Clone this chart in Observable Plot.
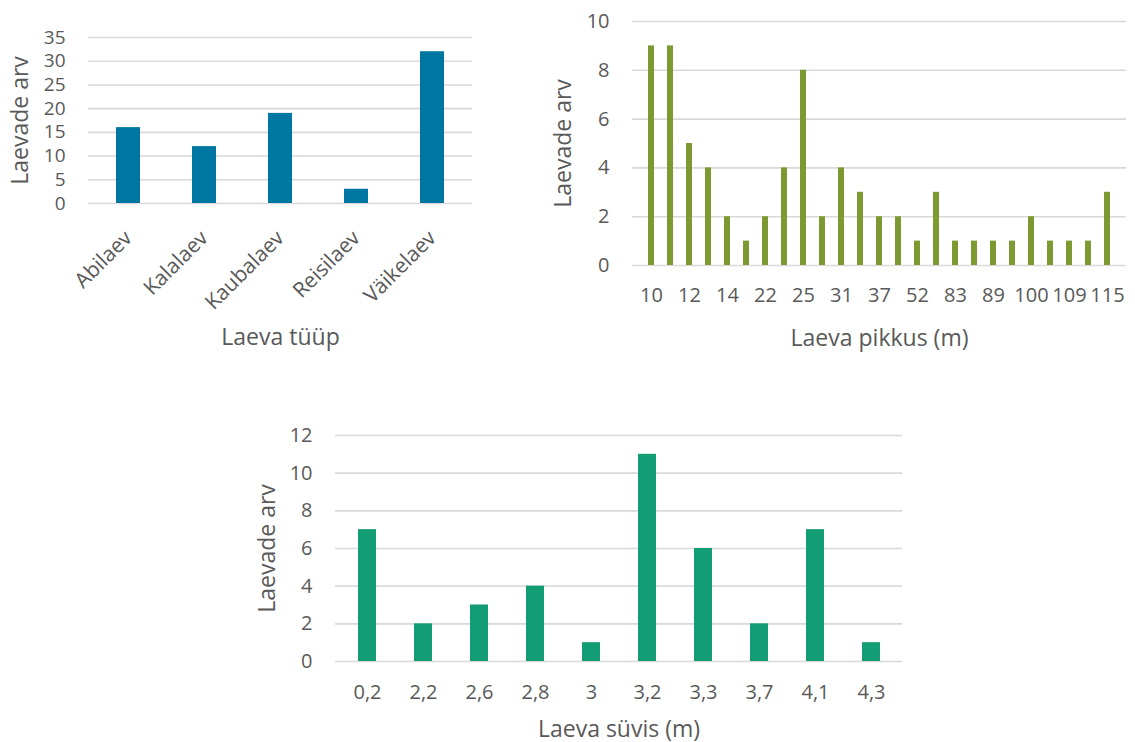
<!DOCTYPE html>
<html>
<head>
<meta charset="utf-8">
<script src="https://cdn.jsdelivr.net/npm/d3@7"></script>
<script src="https://cdn.jsdelivr.net/npm/@observablehq/plot@0.6"></script>
<style>
  body { margin: 0; background: #fff; }
  #wrap { position: relative; width: 1135px; height: 742px; font-family: "Open Sans", sans-serif; }
  .panel { position: absolute; }
</style>
</head>
<body>
<div id="wrap">
  <div class="panel" id="p1" style="left:0px;top:0px"></div>
  <div class="panel" id="p2" style="left:540px;top:0px"></div>
  <div class="panel" id="p3" style="left:240px;top:420px"></div>
</div>
<script>
// Ships by type
const shipTypes = ["Abilaev", "Kalalaev", "Kaubalaev", "Reisilaev", "Väikelaev"];
const shipTypeCounts = [16, 12, 19, 3, 32];

// Ships by length (m); only every other category is labelled on the axis
const shipLengths = ["10", "11", "12", "13", "14", "18", "22", "24", "25", "28", "31", "33", "37",
                     "40", "52", "60", "83", "85", "89", "95", "100", "105", "109", "112", "115"];
const shipLengthCounts = [9, 9, 5, 4, 2, 1, 2, 4, 8, 2, 4, 3, 2, 2, 1, 3, 1, 1, 1, 1, 2, 1, 1, 1, 3];
const shipLengthTickLabels = ["10", "12", "14", "22", "25", "31", "37", "52", "83", "89", "100", "109", "115"];

// Ships by draught (m)
const shipDraughts = ["0,2", "2,2", "2,6", "2,8", "3", "3,2", "3,3", "3,7", "4,1", "4,3"];
const shipDraughtCounts = [7, 2, 3, 4, 1, 11, 6, 2, 7, 1];

const yTitle = "Laevade arv";
const textColor = "#595959";
const gridColor = "#d9d9d9";
const titleFont = 23;

function barChart(o) {
  const data = o.categories.map((k, i) => ({k, v: o.values[i]}));
  return Plot.plot({
    width: o.width,
    height: o.height,
    marginLeft: o.marginLeft,
    marginRight: o.marginRight,
    marginTop: o.marginTop,
    marginBottom: o.marginBottom,
    style: {fontFamily: "'Open Sans', sans-serif", fontSize: "20px", color: textColor, background: "white", overflow: "visible"},
    x: {domain: o.categories, paddingInner: o.padInner, paddingOuter: o.padInner / 2, label: null},
    y: {domain: o.yDomain, label: null},
    marks: [
      Plot.gridY(o.yTicks, {stroke: gridColor, strokeOpacity: 1, strokeWidth: 1.6}),
      Plot.barY(data, {x: "k", y: "v", fill: o.color}),
      Plot.axisY(o.yTicks, {tickSize: 0, tickPadding: 23, label: null, fontSize: o.yFont ?? 20, fill: textColor}),
      Plot.axisX(o.xTicks ?? o.categories, {tickSize: 0, tickPadding: o.xPad, tickRotate: o.rotate ?? 0,
        dx: o.xDx ?? 0, label: null, fontSize: o.xFont ?? 20, fill: textColor}),
      Plot.text([yTitle], {frameAnchor: "left", textAnchor: "middle", lineAnchor: "middle", rotate: -90,
        dx: o.yTitleDx, fontSize: titleFont, fill: textColor}),
      Plot.text([o.xTitle], {frameAnchor: "bottom", textAnchor: "middle", lineAnchor: "middle",
        dy: o.xTitleDy, fontSize: titleFont, fill: textColor})
    ]
  });
}

document.getElementById("p1").append(barChart({
  categories: shipTypes, values: shipTypeCounts, color: "#0076a2",
  width: 480, height: 350, marginLeft: 88, marginRight: 8, marginTop: 37, marginBottom: 147,
  padInner: 0.69, yDomain: [0, 35], yTicks: d3.range(0, 36, 5), yFont: 19,
  xPad: 31, xDx: 0, xFont: 21, rotate: -45, xTitle: "Laeva tüüp", yTitleDx: -68, xTitleDy: 134
}));

document.getElementById("p2").append(barChart({
  categories: shipLengths, values: shipLengthCounts, color: "#7d9a32",
  width: 595, height: 350, marginLeft: 92, marginRight: 9, marginTop: 21, marginBottom: 85,
  padInner: 0.67, yDomain: [0, 10], yTicks: d3.range(0, 11, 2), xTicks: shipLengthTickLabels,
  xPad: 22, xTitle: "Laeva pikkus (m)", yTitleDx: -69, xTitleDy: 73
}));

document.getElementById("p3").append(barChart({
  categories: shipDraughts, values: shipDraughtCounts, color: "#129d74",
  width: 680, height: 322, marginLeft: 95, marginRight: 18, marginTop: 15, marginBottom: 81,
  padInner: 0.68, yDomain: [0, 12], yTicks: d3.range(0, 13, 2),
  xPad: 23, xTitle: "Laeva süvis (m)", yTitleDx: -68, xTitleDy: 68
}));
</script>
</body>
</html>
